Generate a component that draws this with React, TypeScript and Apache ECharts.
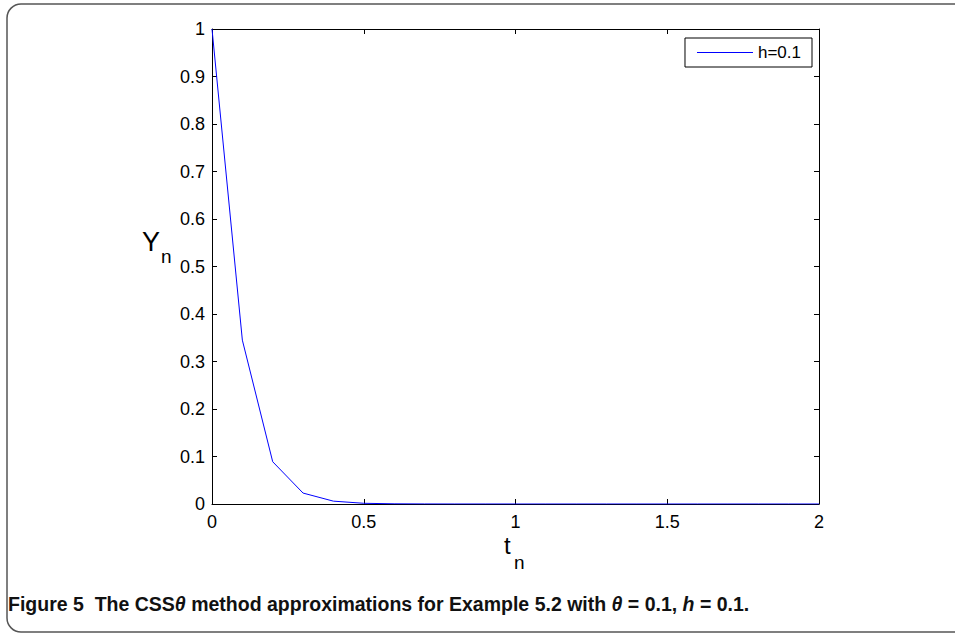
import React, { useEffect, useRef } from "react";
import * as echarts from "echarts";

const tValues = [0, 0.1, 0.2, 0.3, 0.4, 0.5, 0.6, 0.7, 0.8, 0.9, 1.0, 1.1, 1.2, 1.3, 1.4, 1.5, 1.6, 1.7, 1.8, 1.9, 2.0];
const yValues = [1, 0.345, 0.089, 0.023, 0.006, 0.0015, 0.0004, 0.0001, 0.00003, 0.00001, 0, 0, 0, 0, 0, 0, 0, 0, 0, 0, 0];
const seriesName = "h=0.1";
const xTicks = [0, 0.5, 1, 1.5, 2];
const yTicks = [0, 0.1, 0.2, 0.3, 0.4, 0.5, 0.6, 0.7, 0.8, 0.9, 1];

const FONT = "'Liberation Sans', Arial, Helvetica, sans-serif";

export default function App() {
  const ref = useRef<HTMLDivElement>(null);
  useEffect(() => {
    if (!ref.current) return;
    const chart = echarts.init(ref.current, null, { renderer: "svg" });
    const data = tValues.map((t, i) => [t, yValues[i]]);
    const axisCommon = {
      axisLine: { show: true, onZero: false, lineStyle: { color: "#000", width: 1 } },
      axisTick: { show: true, inside: true, length: 5, lineStyle: { color: "#000" } },
      splitLine: { show: false },
    };
    chart.setOption({
      animation: false,
      backgroundColor: "#fff",
      grid: { left: 212, right: 136, top: 29, bottom: 130 },
      legend: {
        data: [{ name: seriesName, icon: "rect" }],
        right: 143,
        top: 38,
        itemWidth: 56,
        itemHeight: 1,
        itemGap: 4,
        padding: [6, 11, 6, 12],
        borderColor: "#000",
        borderWidth: 1,
        textStyle: { fontFamily: FONT, fontSize: 17, color: "#000" },
      },
      xAxis: [
        {
          type: "value",
          min: xTicks[0],
          max: xTicks[xTicks.length - 1],
          interval: 0.5,
          position: "bottom",
          ...axisCommon,
          axisLabel: {
            fontFamily: FONT,
            fontSize: 18,
            color: "#000",
            margin: 9,
            formatter: (v: number) => String(v),
          },
        },
        {
          type: "value",
          min: xTicks[0],
          max: xTicks[xTicks.length - 1],
          interval: 0.5,
          position: "top",
          ...axisCommon,
          axisLabel: { show: false },
        },
      ],
      yAxis: [
        {
          type: "value",
          min: yTicks[0],
          max: yTicks[yTicks.length - 1],
          interval: 0.1,
          position: "left",
          ...axisCommon,
          axisLabel: {
            fontFamily: FONT,
            fontSize: 18,
            color: "#000",
            margin: 7,
            formatter: (v: number) => String(Math.round(v * 10) / 10),
          },
        },
        {
          type: "value",
          min: yTicks[0],
          max: yTicks[yTicks.length - 1],
          interval: 0.1,
          position: "right",
          ...axisCommon,
          axisLabel: { show: false },
        },
      ],
      series: [
        {
          name: seriesName,
          type: "line",
          data,
          symbol: "none",
          showSymbol: false,
          lineStyle: { color: "#0000ff", width: 1 },
          itemStyle: { color: "#0000ff" },
          xAxisIndex: 0,
          yAxisIndex: 0,
        },
      ],
      graphic: [
        {
          type: "rect",
          shape: { x: 7, y: 4, width: 980, height: 628, r: 14 },
          style: { fill: "none", stroke: "#555", lineWidth: 1.5 },
          silent: true,
          z: -1,
        },
        {
          type: "text",
          left: 142,
          top: 228,
          style: { text: "Y", font: `27px ${FONT}`, fill: "#000" },
        },
        {
          type: "text",
          left: 161,
          top: 247,
          style: { text: "n", font: `19px ${FONT}`, fill: "#000" },
        },
        {
          type: "text",
          left: 504,
          top: 533,
          style: { text: "t", font: `24px ${FONT}`, fill: "#000" },
        },
        {
          type: "text",
          left: 514,
          top: 553,
          style: { text: "n", font: `19px ${FONT}`, fill: "#000" },
        },
        {
          type: "text",
          left: 8,
          top: 594,
          style: {
            text: "{b|Figure 5  The CSS}{bi|θ}{b| method approximations for Example 5.2 with }{bi|θ}{b| = 0.1, }{bi|h}{b| = 0.1.}",
            rich: {
              b: { fontFamily: FONT, fontWeight: "bold", fontSize: 19.5, fill: "#111" },
              bi: { fontFamily: FONT, fontWeight: "bold", fontStyle: "italic", fontSize: 19.5, fill: "#111" },
            },
          },
        },
      ],
    });
    return () => chart.dispose();
  }, []);
  return (
    <div
      ref={ref}
      style={{ position: "fixed", left: 0, top: 0, width: 955, height: 634 }}
    />
  );
}
